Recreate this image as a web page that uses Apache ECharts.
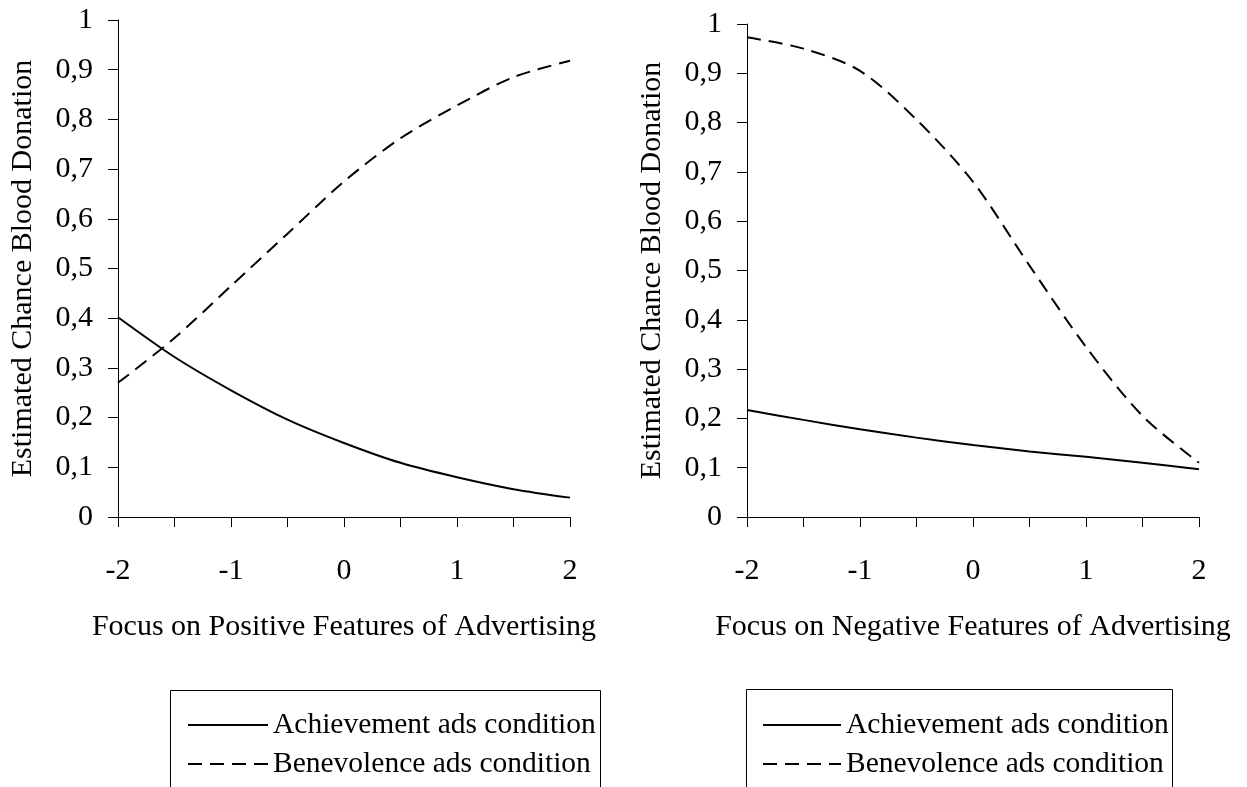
<!DOCTYPE html>
<html>
<head>
<meta charset="utf-8">
<script src="https://cdn.jsdelivr.net/npm/echarts@6/dist/echarts.min.js"></script>
<style>
html,body{margin:0;padding:0;background:#fff;}
#chart{width:1247px;height:787px;}
</style>
</head>
<body>
<div id="chart"></div>
<script>
// ---- data ----
const xValues = [-2, -1.5, -1, -0.5, 0, 0.5, 1, 1.5, 2];
const xTickLabels = { '-2': '-2', '-1': '-1', '0': '0', '1': '1', '2': '2' };
const yTickLabels = ['0', '0,1', '0,2', '0,3', '0,4', '0,5', '0,6', '0,7', '0,8', '0,9', '1'];
const seriesNames = ['Achievement ads condition', 'Benevolence ads condition'];
const leftTitleX = 'Focus on Positive Features of Advertising';
const rightTitleX = 'Focus on Negative Features of Advertising';
const titleY = 'Estimated Chance Blood Donation';
const posAchievement = [0.402, 0.322, 0.255, 0.196, 0.149, 0.109, 0.080, 0.056, 0.039];
const posBenevolence = [0.270, 0.360, 0.465, 0.570, 0.675, 0.762, 0.828, 0.885, 0.918];
const negAchievement = [0.217, 0.197, 0.178, 0.161, 0.146, 0.133, 0.122, 0.110, 0.097];
const negBenevolence = [0.973, 0.950, 0.905, 0.806, 0.680, 0.510, 0.345, 0.205, 0.110];

const FONT = 'Liberation Serif';
const pairs = arr => xValues.map((x, i) => [x, arr[i]]);

function xAxis(gridIndex, name) {
  return {
    type: 'value', gridIndex, min: -2, max: 2, interval: 0.5,
    name, nameLocation: 'middle', nameGap: 95,
    nameTextStyle: { fontFamily: FONT, fontSize: 30, color: '#000' },
    axisLine: { show: true, onZero: false, lineStyle: { color: '#000', width: 1 } },
    axisTick: { show: true, inside: false, length: 10, lineStyle: { color: '#000', width: 1 } },
    axisLabel: {
      margin: 39, fontFamily: FONT, fontSize: 30, color: '#000',
      formatter: v => { const k = String(Math.round(v * 2) / 2); return xTickLabels[k] !== undefined ? xTickLabels[k] : ''; },
      showMinLabel: true, showMaxLabel: true, hideOverlap: false
    },
    splitLine: { show: false }
  };
}
function yAxis(gridIndex) {
  return {
    type: 'value', gridIndex, min: 0, max: 1, interval: 0.1,
    name: titleY, nameLocation: 'middle', nameGap: 80,
    nameTextStyle: { fontFamily: FONT, fontSize: 30, color: '#000' },
    axisLine: { show: true, onZero: false, lineStyle: { color: '#000', width: 1 } },
    axisTick: { show: true, inside: false, length: 10, lineStyle: { color: '#000', width: 1 } },
    axisLabel: {
      margin: 25, fontFamily: FONT, fontSize: 30, color: '#000',
      formatter: v => yTickLabels[Math.round(v * 10)]
    },
    splitLine: { show: false }
  };
}
function line(name, data, xi, dashed) {
  return {
    type: 'line', name, xAxisIndex: xi, yAxisIndex: xi, data: pairs(data),
    symbol: 'none', showSymbol: false, smooth: 0.3, silent: true, animation: false,
    lineStyle: { color: '#000', width: 2, type: dashed ? [14, 8] : 'solid' },
    itemStyle: { color: '#000' }
  };
}
function legend(left, itemWidth) {
  return {
    show: true, orient: 'vertical', left, top: 705, itemWidth, itemHeight: 20, itemGap: 9,
    selectedMode: false, data: seriesNames,
    textStyle: { fontFamily: FONT, fontSize: 29.5, color: '#000', lineHeight: 30 },
    itemStyle: { opacity: 0, borderWidth: 0 },
    lineStyle: { width: 2, color: '#000' }
  };
}

const chart = echarts.init(document.getElementById('chart'), null, { renderer: 'canvas' });
chart.setOption({
  backgroundColor: '#fff',
  animation: false,
  grid: [
    { left: 118, top: 20, width: 452, height: 497, containLabel: false, outerBoundsMode: 'none' },
    { left: 747, top: 24, width: 452, height: 493, containLabel: false, outerBoundsMode: 'none' }
  ],
  xAxis: [xAxis(0, leftTitleX), xAxis(1, rightTitleX)],
  yAxis: [yAxis(0), yAxis(1)],
  legend: [legend(182, 80), legend(757, 78)],
  series: [
    line(seriesNames[0], posAchievement, 0, false),
    line(seriesNames[1], posBenevolence, 0, true),
    line(seriesNames[0], negAchievement, 1, false),
    line(seriesNames[1], negBenevolence, 1, true)
  ],
  graphic: [
    { type: 'rect', shape: { x: 170.5, y: 690.5, width: 430, height: 200 }, style: { fill: 'none', stroke: '#000', lineWidth: 1 }, silent: true },
    { type: 'rect', shape: { x: 746.5, y: 689.5, width: 426, height: 200 }, style: { fill: 'none', stroke: '#000', lineWidth: 1 }, silent: true }
  ]
});
</script>
</body>
</html>
